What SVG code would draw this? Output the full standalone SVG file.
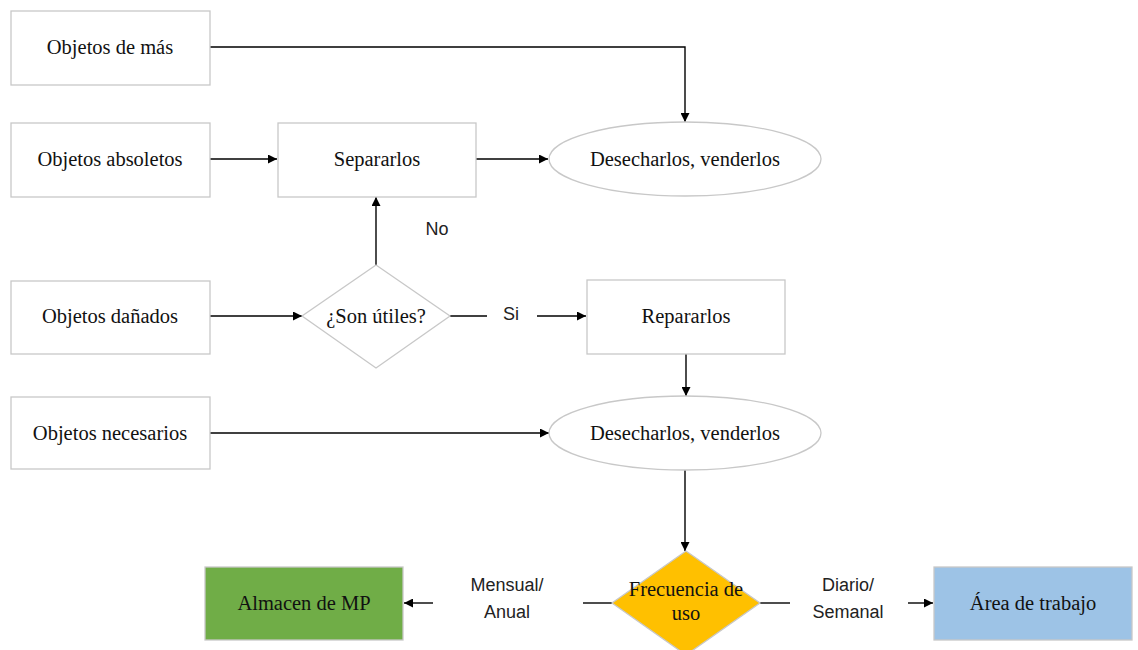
<svg xmlns="http://www.w3.org/2000/svg" width="1138" height="650" viewBox="0 0 1138 650">
  <defs>
    <marker id="arrow" viewBox="0 0 10 10" refX="10" refY="5" markerWidth="10" markerHeight="9" markerUnits="userSpaceOnUse" orient="auto">
      <path d="M0,0 L10,5 L0,10 z" fill="#000"/>
    </marker>
    <style>
      .box { fill: #fff; stroke: #c8c8c8; stroke-width: 1.3; }
      .t { font-family: 'Liberation Serif', 'DejaVu Serif', serif; font-size: 20.5px; fill: #111; text-anchor: middle; dominant-baseline: central; }
      .lbl { font-family: 'Liberation Sans', 'DejaVu Sans', sans-serif; font-size: 18px; fill: #222; text-anchor: middle; dominant-baseline: central; }
      .edge { fill: none; stroke: #000; stroke-width: 1.4; }
      .arr { marker-end: url(#arrow); }
    </style>
  </defs>
  <rect width="1138" height="650" fill="#fff"/>

  <!-- connectors -->
  <g id="connectors">
    <path class="edge arr" d="M210,47 H685 V122"/>
    <path class="edge arr" d="M210,159 H277"/>
    <path class="edge arr" d="M476,159 H548"/>
    <path class="edge arr" d="M376,265 V197"/>
    <path class="edge arr" d="M210,316 H302"/>
    <path class="edge" d="M450,316 H487"/>
    <path class="edge arr" d="M537,316 H586"/>
    <path class="edge arr" d="M686,354 V396"/>
    <path class="edge arr" d="M210,433 H549"/>
    <path class="edge arr" d="M685,470 V551"/>
    <path class="edge" d="M612,603 H583"/>
    <path class="edge arr" d="M433,603 H404"/>
    <path class="edge" d="M760,603 H790"/>
    <path class="edge arr" d="M908,603 H933"/>
    <text class="lbl" x="437" y="229">No</text>
    <text class="lbl" x="511" y="314">Si</text>
    <text class="lbl" x="507" y="585">Mensual/</text>
    <text class="lbl" x="507" y="612">Anual</text>
    <text class="lbl" x="848" y="585">Diario/</text>
    <text class="lbl" x="848" y="612">Semanal</text>
  </g>

  <g id="objetos-de-mas">
    <rect class="box" x="11" y="11" width="199" height="74"/>
    <text class="t" x="110" y="47">Objetos de más</text>
  </g>
  <g id="objetos-absoletos">
    <rect class="box" x="11" y="123" width="199" height="74"/>
    <text class="t" x="110" y="159">Objetos absoletos</text>
  </g>
  <g id="separarlos">
    <rect class="box" x="278" y="123" width="198" height="74"/>
    <text class="t" x="377" y="159">Separarlos</text>
  </g>
  <g id="desecharlos-1">
    <ellipse class="box" cx="685" cy="159" rx="136" ry="37"/>
    <text class="t" x="685" y="159">Desecharlos, venderlos</text>
  </g>
  <g id="objetos-danados">
    <rect class="box" x="11" y="281" width="199" height="73"/>
    <text class="t" x="110" y="316">Objetos dañados</text>
  </g>
  <g id="son-utiles">
    <polygon class="box" points="376,265 450,316 376,368 302,316"/>
    <text class="t" x="376" y="316">¿Son útiles?</text>
  </g>
  <g id="repararlos">
    <rect class="box" x="587" y="280" width="198" height="74"/>
    <text class="t" x="686" y="316">Repararlos</text>
  </g>
  <g id="objetos-necesarios">
    <rect class="box" x="11" y="397" width="199" height="72"/>
    <text class="t" x="110" y="433">Objetos necesarios</text>
  </g>
  <g id="desecharlos-2">
    <ellipse class="box" cx="685" cy="433" rx="136" ry="37"/>
    <text class="t" x="685" y="433">Desecharlos, venderlos</text>
  </g>
  <g id="frecuencia">
    <polygon points="686,551 760,603 686,655 612,603" fill="#FFC000" stroke="#c8c8c8" stroke-width="1.3"/>
    <text class="t" x="686" y="589">Frecuencia de</text>
    <text class="t" x="686" y="613">uso</text>
  </g>
  <g id="almacen">
    <rect x="205" y="567" width="198" height="73" fill="#70AD47" stroke="#c8c8c8" stroke-width="1.3"/>
    <text class="t" x="304" y="603">Almacen de MP</text>
  </g>
  <g id="area-trabajo">
    <rect x="934" y="567" width="198" height="73" fill="#9DC3E6" stroke="#c8c8c8" stroke-width="1.3"/>
    <text class="t" x="1033" y="603">Área de trabajo</text>
  </g>
</svg>
